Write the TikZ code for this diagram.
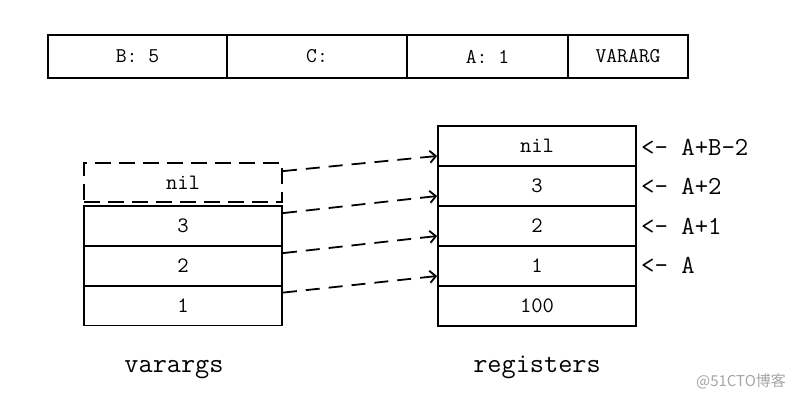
\documentclass[tikz,border=0pt]{standalone}
\usepackage{fontspec}
\newfontfamily\cjkfont{Noto Sans CJK SC}
\usetikzlibrary{arrows.meta}
\begin{document}
\begin{tikzpicture}[x=1pt,y=-1pt,
  cell/.style={draw, line width=1.8pt, minimum height=40pt, minimum width=198pt,
    inner sep=0pt, anchor=center, font=\ttfamily\fontsize{22}{22}\selectfont},
  dcell/.style={cell, dash pattern=on 16pt off 8pt},
  bar/.style={cell, minimum height=43pt, font=\ttfamily\fontsize{21}{21}\selectfont},
  lbl/.style={anchor=base west, inner sep=0pt, font=\ttfamily\fontsize{26}{26}\selectfont},
  title/.style={anchor=base, inner sep=0pt, font=\ttfamily\fontsize{27.5}{27.5}\selectfont},
  link/.style={line width=1.8pt, dash pattern=on 14pt off 9pt,
    -{Straight Barb[length=6pt,width=12pt,line width=1.8pt]}}]
\useasboundingbox[fill=white] (0,0) rectangle (800,400);
% top bar
\node[bar, minimum width=179pt] (b) at (137.5,56.5) {B: 5};
\node[bar, minimum width=180pt] (c) at (317,56.5) {C:};
\node[bar, minimum width=161pt] (a) at (487.5,56.5) {A: 1};
\node[bar, minimum width=120pt] (v) at (628,56.5) {VARARG};
% varargs
\node[dcell, minimum height=39pt] (vnil) at (183,182.5) {nil};
\node[cell] (v3) at (183,226) {3};
\node[cell] (v2) at (183,266) {2};
\node[cell] (v1) at (183,305.5) {1};
% registers
\node[cell] (rnil) at (537,146) {nil};
\node[cell] (r3) at (537,186) {3};
\node[cell] (r2) at (537,226) {2};
\node[cell] (r1) at (537,266) {1};
\node[cell] (r0) at (537,306) {100};
% labels
\node[lbl] (l4) at (641,155) {<- A+B-2};
\node[lbl] (l3) at (641,194) {<- A+2};
\node[lbl] (l2) at (641,234) {<- A+1};
\node[lbl] (l1) at (641,273) {<- A};
% arrows
\draw[link] ([yshift=-9pt]vnil.north east) -- ([yshift=-10pt]rnil.west);
\draw[link] ([yshift=-8pt]v3.north east) -- ([yshift=-10pt]r3.west);
\draw[link] ([yshift=-8pt]v2.north east) -- ([yshift=-10pt]r2.west);
\draw[link] ([yshift=-8pt]v1.north east) -- ([yshift=-10pt]r1.west);
% titles
\node[title] (tv) at (174,372) {varargs};
\node[title] (tr) at (537,372) {registers};
% watermark
\node[inner sep=0pt, text=black!35, font=\cjkfont\fontsize{15}{15}\selectfont] (wm) at (741,381) {@51CTO博客};
\end{tikzpicture}
\end{document}
